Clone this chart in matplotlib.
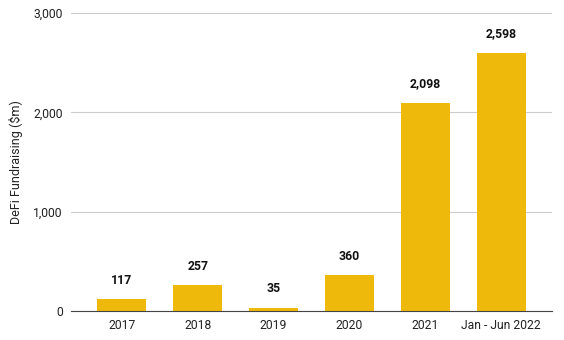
import matplotlib.pyplot as plt

plt.rcParams['font.family'] = ['Roboto', 'DejaVu Sans']

categorias = ['2017', '2018', '2019', '2020', '2021', 'Jan - Jun 2022']
valores = [117, 257, 35, 360, 2098, 2598]
yticks = [0, 1000, 2000, 3000]

fig = plt.figure(figsize=(5.64, 3.4), dpi=100)
ax = fig.add_axes([0.1259, 0.0853, 0.8528, 0.8765])

x = range(len(categorias))
ax.bar(x, valores, width=0.65, color='#EFB90B', zorder=3)

for xi, v in zip(x, valores):
    ax.annotate(f'{v:,}', (xi, v), xytext=(0, 9), textcoords='offset points',
                ha='center', va='bottom', fontsize=8.8, fontweight='bold', color='#111111')

ax.set_xlim(-0.67, 5.67)
ax.set_ylim(0, 3000)
ax.set_yticks(yticks)
ax.set_yticklabels([f'{t:,}' for t in yticks])
ax.set_xticks(list(x))
ax.set_xticklabels(categorias)
ax.set_ylabel('DeFi Fundraising ($m)', fontsize=9, color='#222222', labelpad=7)

ax.grid(axis='y', color='#cccccc', linewidth=0.8, zorder=0)
for s in ['top', 'right', 'left']:
    ax.spines[s].set_visible(False)
ax.spines['bottom'].set_color('#444444')
ax.spines['bottom'].set_zorder(4)
ax.tick_params(length=0, labelsize=8.7, colors='#222222')
ax.tick_params(axis='x', pad=6)
ax.tick_params(axis='y', pad=6)

fig.savefig('out.png', dpi=100)
